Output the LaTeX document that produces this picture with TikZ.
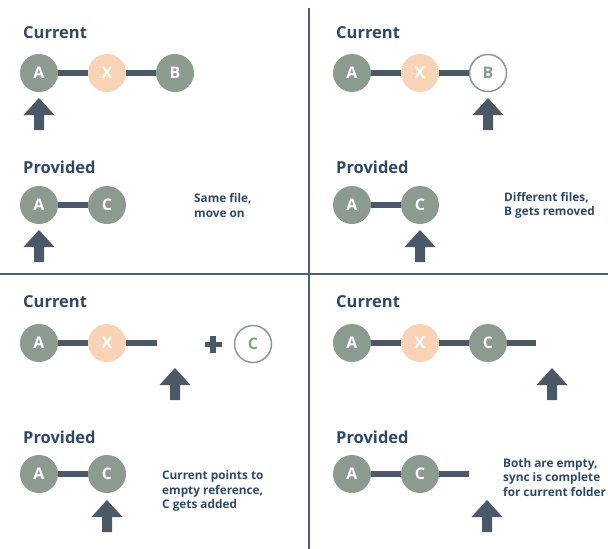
\documentclass[tikz,border=0pt]{standalone}
\usepackage{fontspec}
\setmainfont{Open Sans}
\usepackage{tikz}
\usetikzlibrary{shapes.geometric, arrows, positioning}
\definecolor{sage}{HTML}{8C9A8F}
\definecolor{peach}{HTML}{F9D3B6}
\definecolor{slate}{HTML}{4B5867}
\definecolor{ink}{HTML}{2F4866}
\definecolor{rulecol}{HTML}{4F6078}
\tikzstyle{filenode} = [circle, minimum size = 38pt, inner sep = 0pt, fill = sage, text = white,
font = \fontsize{16}{16}\selectfont\bfseries]
\tikzstyle{changednode} = [filenode, fill = peach]
\tikzstyle{emptynode} = [filenode, fill = white, draw = sage, line width = 1.5pt, minimum size = 37pt, text = sage]
\tikzstyle{heading} = [anchor = west, inner sep = 0pt, text = ink, font = \fontsize{16.5}{19}\selectfont\bfseries]
\tikzstyle{remark} = [anchor = west, inner sep = 0pt, align = left, text = ink,
font = \fontsize{11.8}{14.5}\selectfont\bfseries]
\tikzstyle{bar} = [slate, line width = 6pt]
\tikzstyle{divider} = [rulecol, line width = 1.8pt]
\tikzset{pics/pointer/.style = {code = {\fill[slate] (0,0) -- (15.5,17) -- (5,17) -- (5,32) -- (-5,32) -- (-5,17) -- (-15.5,17) -- cycle;}}}

\begin{document}
\begin{tikzpicture} [x = 1pt, y = -1pt, node distance = 68pt]
\useasboundingbox (0,0) rectangle (608,549);
\draw[divider] (309,8) -- (309,549);
\draw[divider] (0,274) -- (608,274);

\node (tlCur) [heading] at (23,33) {Current};
\node (tlCurA) [filenode] at (39,73) {A};
\node (tlCurX) [changednode, right of = tlCurA] {X};
\node (tlCurB) [filenode, right of = tlCurX] {B};
\draw[bar] (tlCurA) -- (tlCurX) -- (tlCurB);
\pic at (39,98) {pointer};
\node (tlPro) [heading] at (23,167) {Provided};
\node (tlProA) [filenode] at (39,205) {A};
\node (tlProC) [filenode, right of = tlProA] {C};
\draw[bar] (tlProA) -- (tlProC);
\pic at (39,230) {pointer};
\node (tlNote) [remark] at (194,205.5) {Same file,\\move on};

\node (trCur) [heading] at (336,33) {Current};
\node (trCurA) [filenode] at (352,73) {A};
\node (trCurX) [changednode, right of = trCurA] {X};
\node (trCurB) [emptynode, right of = trCurX] {B};
\draw[bar] (trCurA) -- (trCurX) -- (trCurB);
\pic at (488,98) {pointer};
\node (trPro) [heading] at (336,167) {Provided};
\node (trProA) [filenode] at (352,205) {A};
\node (trProC) [filenode, right of = trProA] {C};
\draw[bar] (trProA) -- (trProC);
\pic at (420,230) {pointer};
\node (trNote) [remark] at (504,205.5) {Different files,\\B gets removed};

\node (blCur) [heading] at (23,302) {Current};
\node (blCurA) [filenode] at (39,343) {A};
\node (blCurX) [changednode, right of = blCurA] {X};
\coordinate (blCurEnd) at (157,343);
\draw[bar] (blCurA) -- (blCurX) -- (blCurEnd);
\draw[slate, line width = 5.5pt] (204.5,344.5) -- (221.5,344.5) (213,336) -- (213,353);
\node (blNew) [emptynode] at (253,344) {C};
\pic at (175,368) {pointer};
\node (blPro) [heading] at (23,437) {Provided};
\node (blProA) [filenode] at (39,474) {A};
\node (blProC) [filenode, right of = blProA] {C};
\draw[bar] (blProA) -- (blProC);
\pic at (107,500) {pointer};
\node (blNote) [remark] at (162,491) {Current points to\\empty reference,\\C gets added};

\node (brCur) [heading] at (336,302) {Current};
\node (brCurA) [filenode] at (352,343) {A};
\node (brCurX) [changednode, right of = brCurA] {X};
\node (brCurC) [filenode, right of = brCurX] {C};
\coordinate (brCurEnd) at (536,343);
\draw[bar] (brCurA) -- (brCurX) -- (brCurC) -- (brCurEnd);
\pic at (552,368) {pointer};
\node (brPro) [heading] at (336,437) {Provided};
\node (brProA) [filenode] at (352,474) {A};
\node (brProC) [filenode, right of = brProA] {C};
\coordinate (brProEnd) at (469,474);
\draw[bar] (brProA) -- (brProC) -- (brProEnd);
\pic at (487,500) {pointer};
\node (brNote) [remark] at (503,477.5) {Both are empty,\\sync is complete\\for current folder};
\end{tikzpicture}
\end{document}
